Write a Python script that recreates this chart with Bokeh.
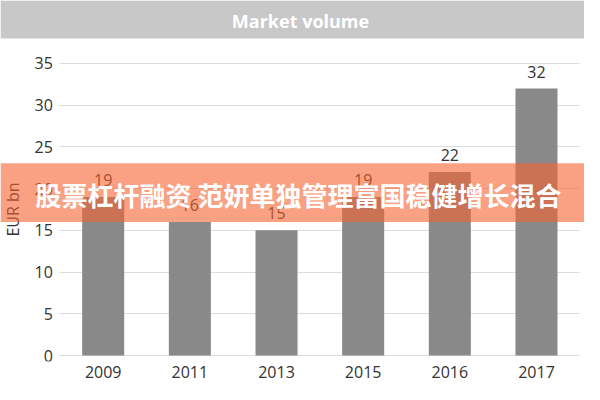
from bokeh.plotting import figure
from bokeh.models import (ColumnDataSource, LabelSet, Label, BoxAnnotation, Range1d,
                          FixedTicker)
from bokeh.core.properties import value
from bokeh.embed import file_html
from bokeh.resources import INLINE

years = ["2009", "2011", "2013", "2015", "2016", "2017"]
values = [19, 16, 15, 19, 22, 32]
y_ticks = [0, 5, 10, 15, 20, 25, 30, 35]
title_text = "Market volume"
y_label = "EUR bn"
overlay_text = "股票杠杆融资 范妍单独管理富国稳健增长混合"

pos = list(range(len(years)))
src = ColumnDataSource(dict(x=pos, top=values, lab=[str(v) for v in values]))

W, H = 584, 384
X0, X1 = -1.185, 5.554      # view range (frame spans whole canvas width)
Y0, Y1 = -0.719, 42.55      # view range (room on top for the title band)

p = figure(width=W, height=H, x_range=Range1d(X0, X1), y_range=Range1d(Y0, Y1),
           output_backend="svg", toolbar_location=None,
           min_border_left=0, min_border_right=0, min_border_top=0, min_border_bottom=23)
p.title.visible = False
p.outline_line_color = None
p.background_fill_color = "white"
p.border_fill_color = "white"

# grid
p.xgrid.grid_line_color = None
p.ygrid.grid_line_color = "#dcdcdc"
p.ygrid.grid_line_width = 1
g = p.ygrid[0]
if "cross_bounds" in g.properties():
    g.cross_bounds = (-0.5, len(years) - 0.5)

p.vbar(x="x", top="top", width=0.485, source=src, fill_color="#898989", line_color=None)

# axes
xa = p.xaxis[0]
ya = p.yaxis[0]
xa.ticker = FixedTicker(ticks=pos)
xa.major_label_overrides = {i: y for i, y in zip(pos, years)}
ya.ticker = FixedTicker(ticks=y_ticks)
ya.bounds = (y_ticks[0], y_ticks[-1])
ya.fixed_location = -0.5
for ax in (xa, ya):
    ax.axis_line_color = None
    ax.major_tick_line_color = None
    ax.minor_tick_line_color = None
    ax.major_tick_out = 0
    ax.major_tick_in = 0
    ax.minor_tick_out = 0
    ax.minor_tick_in = 0
    ax.major_label_text_font = "Open Sans"
    ax.major_label_text_font_size = "16px"
    ax.major_label_text_color = "#333333"
xa.major_label_standoff = 4
ya.major_label_standoff = 7
ya.axis_label = y_label
ya.axis_label_text_font = "Open Sans"
ya.axis_label_text_font_size = "16px"
ya.axis_label_text_font_style = "normal"
ya.axis_label_text_color = "#333333"
ya.axis_label_standoff = 7

labels = LabelSet(x="x", y="top", text="lab", source=src, text_align="center",
                  text_baseline="middle", y_offset=17, text_font=value("Open Sans"),
                  text_font_size="16px", text_color="#333333")
p.add_layout(labels)

# title band
p.add_layout(BoxAnnotation(left=X0, right=X1, bottom=38.0, top=Y1,
                           fill_color="#c8c8c8", fill_alpha=1.0, line_color=None))
p.add_layout(Label(x=300, y=40.15, x_units="screen", text=title_text,
                   text_align="center", text_baseline="middle", text_font="Open Sans",
                   text_font_style="bold", text_font_size="18px", text_color="white"))

# overlay band
p.add_layout(BoxAnnotation(left=X0, right=X1, bottom=16.0, top=23.05,
                           fill_color="#F5632F", fill_alpha=0.6, line_color=None))
p.add_layout(Label(x=298, y=19.25, x_units="screen", text=overlay_text,
                   text_align="center", text_baseline="middle",
                   text_font="Noto Sans CJK SC", text_font_style="bold",
                   text_font_size="26px", text_color="white"))

open("out.html", "w").write(file_html(p, INLINE))
